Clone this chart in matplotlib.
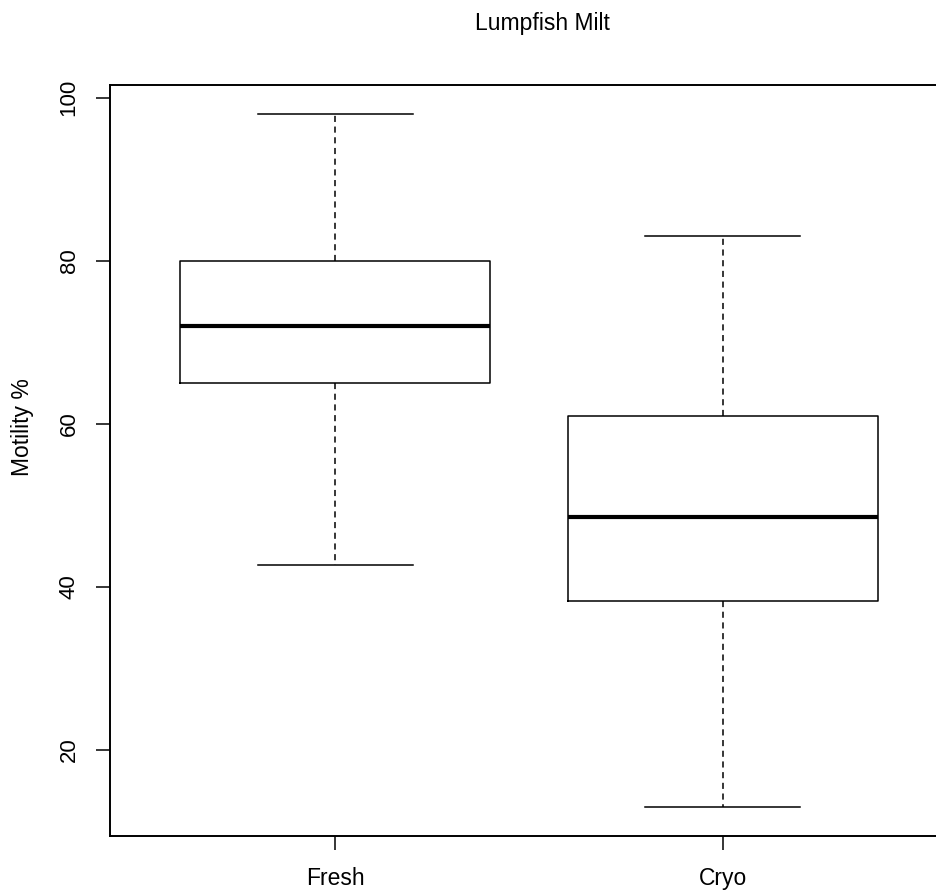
import matplotlib
matplotlib.use("Agg")
import matplotlib.pyplot as plt

# summary stats
groups = ["Fresh", "Cryo"]
whisker_low = [42.7, 13.0]
q1 = [65.0, 38.3]
median = [72.0, 48.6]
q3 = [80.0, 61.0]
whisker_high = [98.0, 83.0]
y_ticks = [20, 40, 60, 80, 100]

plt.rcParams["font.family"] = ["Liberation Sans", "DejaVu Sans"]

W, H = 936, 890
fig = plt.figure(figsize=(W / 100, H / 100), dpi=100)
ax = fig.add_axes([110.3 / W, 1 - 836 / H, (947.5 - 110.3) / W, (836 - 85) / H])

stats = []
for i, name in enumerate(groups):
    stats.append({
        "label": name,
        "whislo": whisker_low[i],
        "q1": q1[i],
        "med": median[i],
        "q3": q3[i],
        "whishi": whisker_high[i],
        "fliers": [],
    })

ax.bxp(
    stats,
    positions=[1, 2],
    widths=0.8,
    capwidths=0.4,
    showfliers=False,
    boxprops=dict(color="black", linewidth=1.1),
    medianprops=dict(color="black", linewidth=3.0, solid_capstyle="butt"),
    whiskerprops=dict(color="black", linewidth=1.1, linestyle=(0, (4, 3))),
    capprops=dict(color="black", linewidth=1.1),
)

ax.set_xlim(0.42, 2.58)
ax.set_ylim(9.45, 101.56)
ax.set_xticks([1, 2])
ax.set_xticklabels(groups, fontsize=16.5)
ax.set_yticks(y_ticks)
ax.set_yticklabels([str(v) for v in y_ticks], fontsize=16, rotation=90, va="center")
ax.tick_params(axis="x", direction="out", length=10, width=1.1, pad=12)
ax.tick_params(axis="y", direction="out", length=10, width=1.1, pad=12)
for s in ax.spines.values():
    s.set_linewidth(1.4)

fig.text(542 / W, 1 - 30 / H, "Lumpfish Milt", ha="center", va="baseline", fontsize=16.5)
fig.text(22 / W, 1 - 427 / H, "Motility %", ha="center", va="center",
         rotation=90, fontsize=16.5)

fig.savefig("out.png", dpi=100)
